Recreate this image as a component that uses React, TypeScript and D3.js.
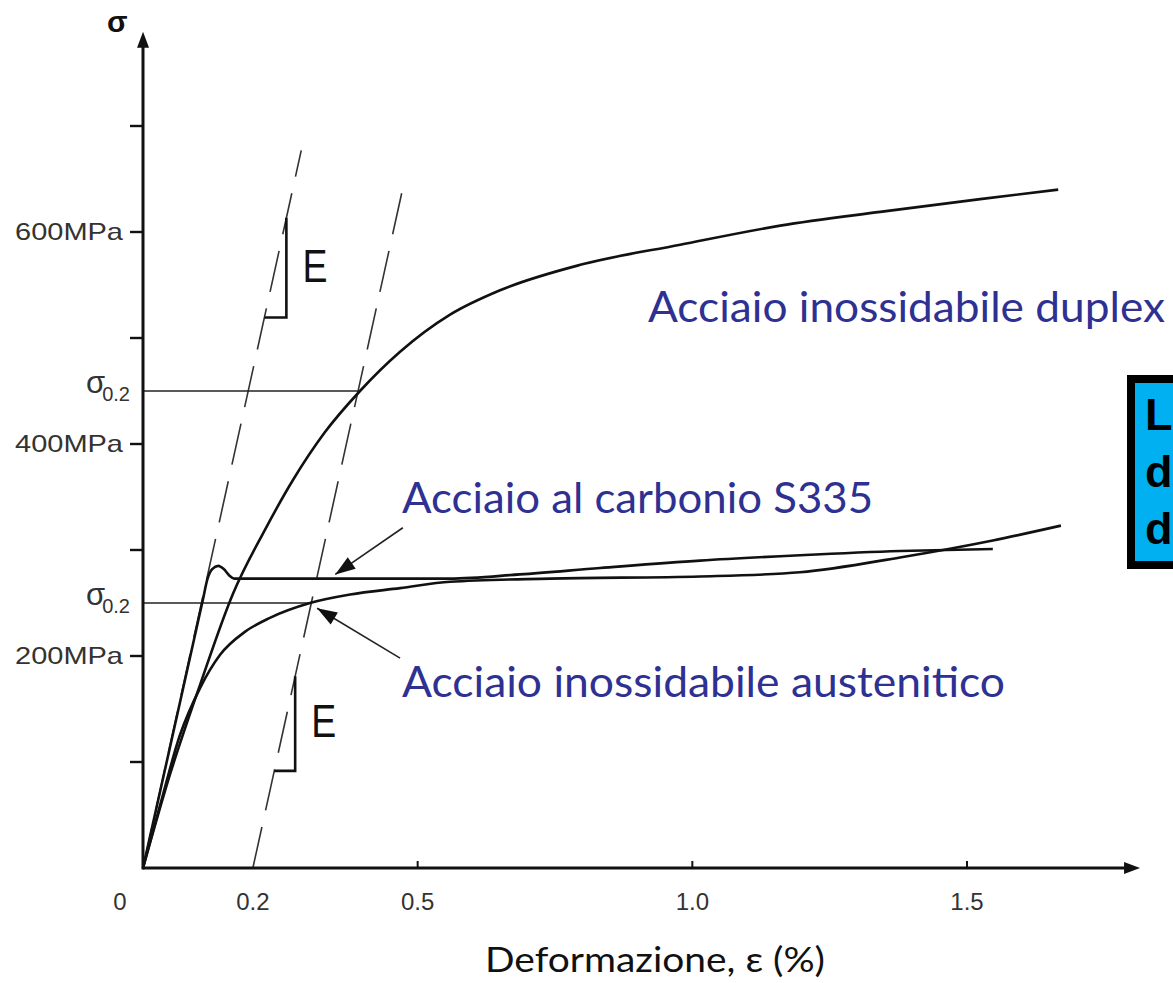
import React from 'react'
import * as d3 from 'd3'

const WIDTH = 1173
const HEIGHT = 983

// deformazione (%) e tensione (MPa)
const duplexStrain = [0, 0.049, 0.104, 0.164, 0.222, 0.273, 0.331, 0.395, 0.468, 0.559, 0.65, 0.796, 0.978, 1.16, 1.342, 1.524, 1.666]
const duplexStress = [0, 88, 173, 259, 319, 366, 411, 450, 487, 522, 545, 569, 588, 606, 619, 631, 640]

const austStrain = [0, 0.031, 0.067, 0.104, 0.14, 0.186, 0.231, 0.304, 0.377, 0.468, 0.559, 0.741, 1.014, 1.196, 1.378, 1.547, 1.671]
const austStress = [0, 59, 125, 170, 201, 223, 236, 250, 258, 264, 270, 273, 275, 279, 293, 309, 323]

const carbonStrain = [0, 0.109, 0.117, 0.126, 0.137, 0.147, 0.157, 0.166, 0.559, 0.686, 0.832, 1.014, 1.196, 1.378, 1.547]
const carbonStress = [0, 253, 272, 282, 285, 282, 276, 273, 273, 277, 283, 290, 295, 299, 301]

const yTicks = [100, 200, 300, 400, 500, 600, 700]
const yTickLabels = ['', '200MPa', '', '400MPa', '', '600MPa', '']
const xTicks = [0.5, 1.0, 1.5]
const xLabelValues = [0.2, 0.5, 1.0, 1.5]
const xLabels = ['0.2', '0.5', '1.0', '1.5']

// modulo elastico (MPa per %), rette con offset 0 e 0.2
const E = 2350
const elasticOffsets = [0, 0.2]
const elasticTops = [677, 641]
const yieldStress = [250, 450]
// triangolini "E": offset, inizio e fine in deformazione relativa
const slopeMarks = [
    { offset: 0, e0: 0.221, e1: 0.261 },
    { offset: 0.2, e0: 0.039, e1: 0.077 },
]

const labelDuplex = 'Acciaio inossidabile duplex'
const labelCarbon = 'Acciaio al carbonio S335'
const labelAust = 'Acciaio inossidabile austenitico'
const boxLines = ['L', 'd', 'd']

const BLUE = '#2e3192'
const SANS = "'Liberation Sans', Arial, sans-serif"
const CAL = "Lato, 'Open Sans', sans-serif"

const zip = (a: number[], b: number[]): [number, number][] => a.map((v, i) => [v, b[i]])

const arrowHead = (tx: number, ty: number, fx: number, fy: number, len = 18, half = 6) => {
    const ang = Math.atan2(ty - fy, tx - fx)
    const bx = tx - len * Math.cos(ang)
    const by = ty - len * Math.sin(ang)
    const px = -Math.sin(ang) * half
    const py = Math.cos(ang) * half
    return `M${tx},${ty}L${bx + px},${by + py}L${bx - px},${by - py}Z`
}

const App = () => {
    const x = d3.scaleLinear().domain([0, 1.5]).range([143, 967])
    const y = d3.scaleLinear().domain([0, 700]).range([868, 126])

    const line = d3.line<[number, number]>()
        .x(d => x(d[0]))
        .y(d => y(d[1]))
        .curve(d3.curveMonotoneX)

    const x0 = x(0)
    const y0 = y(0)
    const xEnd = x(1.815)
    const yEnd = y(789)

    const curves = [zip(duplexStrain, duplexStress), zip(austStrain, austStress), zip(carbonStrain, carbonStress)]

    // frecce delle etichette (in coordinate dati)
    const pointers = [
        { from: [0.473, 321], to: [0.35, 277] },
        { from: [0.468, 198], to: [0.317, 245] },
    ]

    return (
        <svg width={WIDTH} height={HEIGHT} style={{ position: 'absolute', left: 0, top: 0, background: '#fff' }}>
            {/* rette elastiche tratteggiate */}
            {elasticOffsets.map((off, i) => (
                <line key={i}
                    x1={x(off)} y1={y(0)}
                    x2={x(off + elasticTops[i] / E)} y2={y(elasticTops[i])}
                    stroke='#333' strokeWidth={1.6} strokeDasharray='42 17' />
            ))}

            {/* sigma 0.2 */}
            {yieldStress.map((s, i) => (
                <line key={i} x1={x0} y1={y(s)} x2={x(0.2 + s / E)} y2={y(s)} stroke='#222' strokeWidth={1.5} />
            ))}

            {/* triangoli E */}
            {slopeMarks.map((m, i) => {
                const ea = m.offset + m.e0
                const eb = m.offset + m.e1
                const sa = m.e0 * E
                const sb = m.e1 * E
                return (
                    <g key={i}>
                        <path d={`M${x(ea)},${y(sa)}L${x(eb)},${y(sa)}L${x(eb)},${y(sb)}`}
                            fill='none' stroke='#111' strokeWidth={2.6} />
                        <text x={x(eb) + 16} y={y(sa) - (y(sa) - y(sb)) * 0.36}
                            fontFamily={SANS} fontSize={46} textLength={25} lengthAdjust='spacingAndGlyphs' fill='#111'>E</text>
                    </g>
                )
            })}

            {/* curve */}
            {curves.map((c, i) => (
                <path key={i} d={line(c) || ''} fill='none' stroke='#111' strokeWidth={2.6} strokeLinejoin='round' />
            ))}

            {/* asse x */}
            <line x1={x0} y1={y0} x2={xEnd - 10} y2={y0} stroke='#111' strokeWidth={3} />
            <path d={arrowHead(xEnd, y0, x0, y0, 16, 6)} fill='#111' />
            {xTicks.map(t => (
                <line key={t} x1={x(t)} y1={y0} x2={x(t)} y2={y0 - 7} stroke='#111' strokeWidth={2} />
            ))}
            <text x={x0 - 23} y={910} textAnchor='middle' fontFamily={SANS} fontSize={24} fill='#333'>0</text>
            {xLabelValues.map((v, i) => (
                <text key={v} x={x(v)} y={910} textAnchor='middle' fontFamily={SANS} fontSize={24} fill='#333'>{xLabels[i]}</text>
            ))}

            {/* asse y */}
            <line x1={x0} y1={y0 + 1.5} x2={x0} y2={yEnd + 10} stroke='#111' strokeWidth={3} />
            <path d={arrowHead(x0, yEnd, x0, y0, 16, 6)} fill='#111' />
            {yTicks.map((t, i) => (
                <g key={t}>
                    <line x1={x0 - 13} y1={y(t)} x2={x0} y2={y(t)} stroke='#111' strokeWidth={2.4} />
                    {yTickLabels[i] && (
                        <text x={123} y={y(t) + 8} textAnchor='end' fontFamily={SANS} fontSize={24}
                            textLength={108} lengthAdjust='spacingAndGlyphs' fill='#333'>{yTickLabels[i]}</text>
                    )}
                </g>
            ))}
            <text x={107} y={32} fontFamily={SANS} fontSize={30} fontWeight='bold' fill='#111'>σ</text>

            {yieldStress.map(s => (
                <text key={s} x={86} y={y(s) + 2} fontFamily={SANS} fontSize={31} fill='#333'>
                    σ<tspan fontSize={20} dy={8} dx={-3}>0.2</tspan>
                </text>
            ))}

            {/* etichette */}
            <text x={648} y={322} fontFamily={CAL} fontSize={42} textLength={517} lengthAdjust='spacingAndGlyphs' fill={BLUE}>{labelDuplex}</text>
            <text x={402} y={513} fontFamily={CAL} fontSize={42} textLength={471} lengthAdjust='spacingAndGlyphs' fill={BLUE}>{labelCarbon}</text>
            <text x={402} y={697} fontFamily={CAL} fontSize={42} textLength={603} lengthAdjust='spacingAndGlyphs' fill={BLUE}>{labelAust}</text>

            {pointers.map((p, i) => {
                const fx = x(p.from[0]), fy = y(p.from[1])
                const tx = x(p.to[0]), ty = y(p.to[1])
                return (
                    <g key={i}>
                        <line x1={fx} y1={fy} x2={tx} y2={ty} stroke='#222' strokeWidth={1.6} />
                        <path d={arrowHead(tx, ty, fx, fy, 20, 7)} fill='#111' />
                    </g>
                )
            })}

            <text x={655} y={972} textAnchor='middle' fontFamily={CAL} fontSize={34} textLength={340} lengthAdjust='spacingAndGlyphs' fill='#111'>
                Deformazione, ε (%)
            </text>

            {/* riquadro a destra */}
            <rect x={1131} y={379} width={100} height={186} fill='#00b0f0' stroke='#000' strokeWidth={8} />
            {boxLines.map((t, i) => (
                <text key={i} x={1145} y={430 + i * 57} fontFamily={SANS} fontSize={45} fontWeight='bold' fill='#000'>{t}</text>
            ))}
        </svg>
    )
}

export default App
